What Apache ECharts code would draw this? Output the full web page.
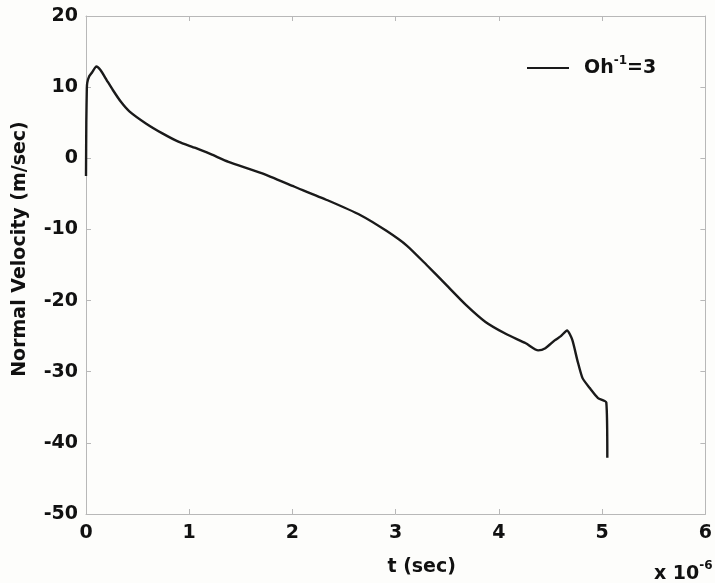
<!DOCTYPE html>
<html>
<head>
<meta charset="utf-8">
<script src="https://cdn.jsdelivr.net/npm/echarts@6/dist/echarts.min.js"></script>
<style>
  html, body { margin: 0; padding: 0; background: #fdfdfb; }
  #main { width: 715px; height: 583px; }
</style>
</head>
<body>
<div id="main"></div>
<script>
// t in units of 1e-6 sec, normal velocity in m/sec
var tVals = [0, 0.003, 0.008, 0.012, 0.03, 0.06, 0.10, 0.14, 0.20, 0.26, 0.34, 0.42, 0.58, 0.74, 0.90, 1.06, 1.22, 1.38,
  1.70, 2.02, 2.34, 2.66, 2.91, 3.11, 3.30, 3.49, 3.68, 3.87, 4.07, 4.26, 4.38, 4.45, 4.54, 4.60, 4.66,
  4.71, 4.76, 4.81, 4.88, 4.96, 5.04, 5.05];
var velVals = [-2.5, 5.0, 9.8, 10.6, 11.5, 12.1, 12.9, 12.4, 11.0, 9.6, 7.9, 6.6, 4.9, 3.5, 2.3, 1.45, 0.5, -0.5,
  -2.1, -4.0, -5.9, -8.0, -10.2, -12.3, -15.0, -17.8, -20.6, -23.0, -24.7, -26.0, -27.0, -26.7, -25.6, -25.0, -24.2,
  -25.5, -28.4, -30.9, -32.3, -33.7, -34.3, -42.1];
var xTicks = [0, 1, 2, 3, 4, 5, 6];
var yTicks = [-50, -40, -30, -20, -10, 0, 10, 20];

var myChart = echarts.init(document.getElementById('main'));

var data = tVals.map(function (t, i) { return [t, velVals[i]]; });
var fam = 'DejaVu Sans';
var labelFont = { color: '#111', fontFamily: fam, fontWeight: 'bold', fontSize: 19 };
var boxLine = { onZero: false, lineStyle: { color: '#b8b8b8', width: 1 } };
var tick = { inside: true, length: 5, lineStyle: { color: '#b8b8b8' } };

option = {
    backgroundColor: '#fdfdfb',
    animation: false,
    grid: { left: 86, right: 4, top: 16, bottom: 69 },
    legend: {
        left: 522,
        top: 50,
        itemWidth: 42,
        itemHeight: 2,
        icon: 'rect',
        data: ['Oh'],
        formatter: function () { return 'Oh{sup|-1}=3'; },
        textStyle: {
            color: '#111', fontFamily: fam, fontWeight: 'bold', fontSize: 19,
            padding: [0, 0, 0, 10],
            rich: {
                sup: { fontSize: 12, fontWeight: 'bold', color: '#111', fontFamily: fam, padding: [0, 0, 14, 0] }
            }
        }
    },
    xAxis: [{
        type: 'value', min: 0, max: 6, interval: 1,
        name: 't (sec)', nameLocation: 'middle', nameGap: 44,
        nameTextStyle: Object.assign({ padding: [0, 0, 0, 52] }, labelFont),
        axisLine: boxLine,
        axisTick: tick,
        axisLabel: Object.assign({ margin: 10 }, labelFont),
        splitLine: { show: false }
    }, {
        type: 'value', min: 0, max: 6, interval: 1, position: 'top',
        axisLine: boxLine,
        axisTick: tick,
        axisLabel: { show: false },
        splitLine: { show: false }
    }],
    yAxis: [{
        type: 'value', min: -50, max: 20, interval: 10,
        name: 'Normal Velocity (m/sec)', nameLocation: 'middle', nameGap: 56,
        nameTextStyle: Object.assign({ padding: [0, 0, 0, 32] }, labelFont),
        axisLine: boxLine,
        axisTick: tick,
        axisLabel: Object.assign({ margin: 8 }, labelFont),
        splitLine: { show: false }
    }, {
        type: 'value', min: -50, max: 20, interval: 10, position: 'right',
        axisLine: boxLine,
        axisTick: tick,
        axisLabel: { show: false },
        splitLine: { show: false }
    }],
    graphic: [{
        type: 'text',
        left: 654,
        top: 560,
        style: {
            text: 'x 10{sup|-6}',
            fill: '#111',
            font: 'bold 19px "DejaVu Sans"',
            rich: {
                sup: { fontSize: 12, fontWeight: 'bold', fontFamily: fam, fill: '#111', padding: [0, 0, 16, 0] }
            }
        }
    }],
    series: [{
        name: 'Oh',
        type: 'line',
        data: data,
        showSymbol: false,
        smooth: 0.2,
        lineStyle: { color: '#1a1a1a', width: 2.4 },
        itemStyle: { color: '#1a1a1a' }
    }]
};
myChart.setOption(option);
</script>
</body>
</html>
